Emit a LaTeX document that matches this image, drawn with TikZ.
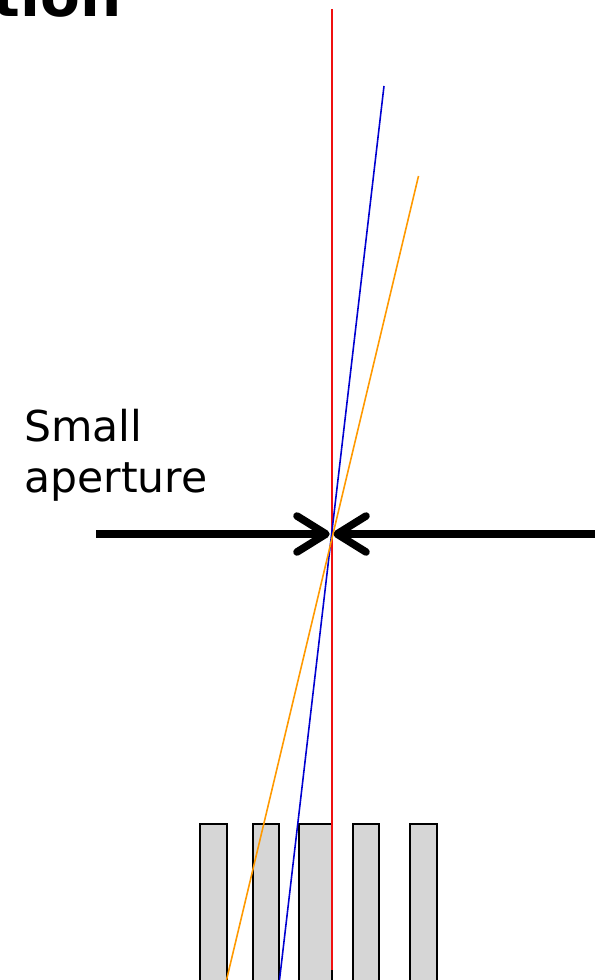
\documentclass[tikz,border=0pt]{standalone}
\usepackage{fontspec}
\setmainfont{DejaVu Sans}
\usetikzlibrary{arrows.meta}
\definecolor{slitgray}{HTML}{D6D6D6}
\definecolor{rayred}{HTML}{F01010}
\definecolor{rayblue}{HTML}{0000D0}
\definecolor{rayorange}{HTML}{FF9900}
\tikzset{
  slit/.style={line width=1pt, draw=black, fill=slitgray},
  ray/.style={line width=0.9pt},
  pointer/.style={line width=4.3pt, black, -{Straight Barb[length=16.5pt, width=20.5pt, round]}, shorten >=1pt}
}

\begin{document}
\begin{tikzpicture}[x=0.02cm, y=-0.02cm]
\useasboundingbox (0,0) rectangle (595,980);
\clip (0,0) rectangle (595,980);
\node[anchor=base east, inner sep=0pt, font=\fontsize{33}{38}\selectfont\bfseries] (title) at (122,17) {tion};
\node[anchor=base west, inner sep=0pt, align=left, font=\fontsize{24.2}{28.9}\selectfont] (label) at (24,492.5) {Small\\aperture};
\coordinate (waist) at (331.5,534);
\coordinate (leftend) at (96,534);
\coordinate (rightend) at (595,534);
\draw[pointer] (leftend) -- (waist);
\draw[pointer] (rightend) -- (waist);
% slits
\draw[slit] (200,1000) rectangle (226.7,824.3);
\draw[slit] (252.7,1000) rectangle (279.3,824.3);
\draw[slit] (299,1000) rectangle (331.7,824.3);
\draw[slit] (352.7,1000) rectangle (379.3,824.3);
\draw[slit] (410,1000) rectangle (437.3,824.3);
% rays
\coordinate (redtop) at (331.6,9);
\coordinate (redbottom) at (331.6,970);
\coordinate (bluetop) at (384,86);
\coordinate (bluebottom) at (279.5,980);
\coordinate (orangetop) at (418.5,176);
\coordinate (orangebottom) at (226.5,980);
\draw[ray, draw=rayred, line width=1.1pt] (redtop) -- (redbottom);
\draw[ray, rayblue] (bluetop) -- (bluebottom);
\draw[ray, rayorange] (orangetop) -- (orangebottom);
\end{tikzpicture}
\end{document}
